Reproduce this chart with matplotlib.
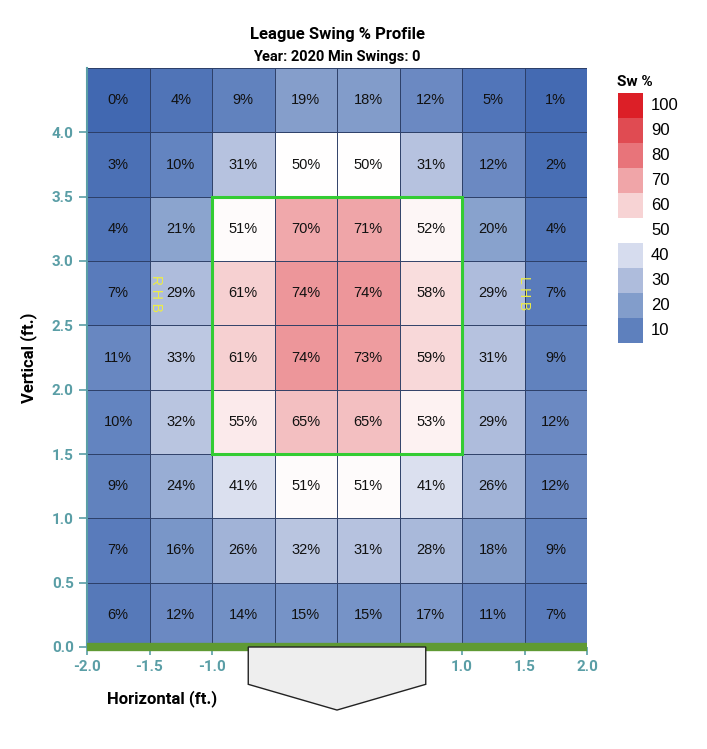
import matplotlib
matplotlib.use("Agg")
import matplotlib.pyplot as plt
import numpy as np
from matplotlib.colors import LinearSegmentedColormap
from matplotlib.patches import Polygon, Rectangle

x_edges = [-2.0, -1.5, -1.0, -0.5, 0.0, 0.5, 1.0, 1.5, 2.0]
y_edges = [0.0, 0.5, 1.0, 1.5, 2.0, 2.5, 3.0, 3.5, 4.0, 4.5]
# rows listed from top (4.0-4.5) to bottom (0.0-0.5)
swing_pct = [
    [0, 4, 9, 19, 18, 12, 5, 1],
    [3, 10, 31, 50, 50, 31, 12, 2],
    [4, 21, 51, 70, 71, 52, 20, 4],
    [7, 29, 61, 74, 74, 58, 29, 7],
    [11, 33, 61, 74, 73, 59, 31, 9],
    [10, 32, 55, 65, 65, 53, 29, 12],
    [9, 24, 41, 51, 51, 41, 26, 12],
    [7, 16, 26, 32, 31, 28, 18, 9],
    [6, 12, 14, 15, 15, 17, 11, 7],
]
legend_levels = [100, 90, 80, 70, 60, 50, 40, 30, 20, 10]
legend_colors = ["#dc1f27", "#e04b52", "#e8747a", "#f0a5a8", "#f7d3d4", "#ffffff",
                 "#d6dcee", "#aebcdc", "#829dcb", "#5e80bd"]

cmap = LinearSegmentedColormap.from_list("sw", [
    (0.0, "#3760ad"), (0.1, "#5c7ebd"), (0.2, "#829dcb"), (0.3, "#aebcdc"),
    (0.4, "#d6dcee"), (0.5, "#ffffff"), (0.6, "#f7d3d4"), (0.7, "#f0a5a8"),
    (0.8, "#e8747a"), (0.9, "#e04b52"), (1.0, "#dc1f27")])

fig = plt.figure(figsize=(7.07, 7.49), dpi=100)
ax = fig.add_axes([87/707, 1-647/749, 500/707, 579/749])
teal = "#5a9ea6"
data = np.array(swing_pct)[::-1]
ax.pcolormesh(x_edges, y_edges, data, cmap=cmap, vmin=0, vmax=100,
              edgecolors="#2c3e66", linewidth=0.6, alpha=0.95)
for i in range(len(y_edges)-1):
    for j in range(len(x_edges)-1):
        ax.text((x_edges[j]+x_edges[j+1])/2, (y_edges[i]+y_edges[i+1])/2,
                f"{data[i, j]}%", ha="center", va="center", fontsize=10.5,
                color="#111111", family="Liberation Sans")
ax.add_patch(Rectangle((-1, 1.5), 2, 2, fill=False, edgecolor="#33cc33", lw=2.2, zorder=5))
ax.text(-1.45, 2.75, "R H B", rotation=-90, color="#eeee44", ha="center", va="center",
        fontsize=10, family="Liberation Sans")
ax.text(1.5, 2.75, "L H B", rotation=-90, color="#eeee44", ha="center", va="center",
        fontsize=10, family="Liberation Sans")
ax.set_xlim(-2, 2)
ax.set_ylim(0, 4.5)
ax.set_xticks(np.arange(-2, 2.01, 0.5))
ax.set_yticks(np.arange(0, 4.01, 0.5))
ax.xaxis.set_major_formatter(matplotlib.ticker.FormatStrFormatter("%.1f"))
ax.yaxis.set_major_formatter(matplotlib.ticker.FormatStrFormatter("%.1f"))
ax.tick_params(colors=teal, labelsize=11, length=6, width=1.2)
for lab in ax.get_xticklabels() + ax.get_yticklabels():
    lab.set_fontweight("bold"); lab.set_family("Roboto")
for s in ["top", "right"]:
    ax.spines[s].set_visible(False)
ax.spines["left"].set_color(teal); ax.spines["left"].set_linewidth(1.5)
ax.spines["bottom"].set_visible(False)
ax.plot([-2, 2], [0, 0], color="#5f9a33", lw=6, solid_capstyle="butt", clip_on=False, zorder=6)
plate = Polygon([(-0.71, 0.0), (0.71, 0.0), (0.71, -0.29), (0.0, -0.49), (-0.71, -0.29)],
                closed=True, facecolor="#eeeeee", edgecolor="#222222", lw=1, clip_on=False, zorder=10)
ax.add_patch(plate)
ax.set_xlabel("Horizontal (ft.)", fontsize=12, fontweight="bold", family="Roboto")
ax.xaxis.set_label_coords(0.15, -0.075)
ax.set_ylabel("Vertical (ft.)", fontsize=12, fontweight="bold", family="Roboto")
ax.yaxis.set_label_coords(-0.1, 0.5)
fig.text(337/707, 1-35/749, "League Swing % Profile", ha="center", va="center",
         fontsize=12, fontweight="bold", family="Roboto")
fig.text(337/707, 1-57/749, "Year: 2020 Min Swings: 0", ha="center", va="center",
         fontsize=10.5, fontweight="bold", family="Roboto")
# legend
fig.text(617/707, 1-82/749, "Sw %", ha="left", va="center", fontsize=11,
         fontweight="bold", family="Roboto")
for k, (lv, c) in enumerate(zip(legend_levels, legend_colors)):
    y0 = 1-(93+25*(k+1))/749
    fig.patches.append(Rectangle((618/707, y0), 25/707, 25/749, facecolor=c,
                                 edgecolor="none", transform=fig.transFigure))
    fig.text(651/707, y0+12.5/749, str(lv), ha="left", va="center", fontsize=12,
             family="Liberation Sans")
fig.savefig("out.png", dpi=100)
